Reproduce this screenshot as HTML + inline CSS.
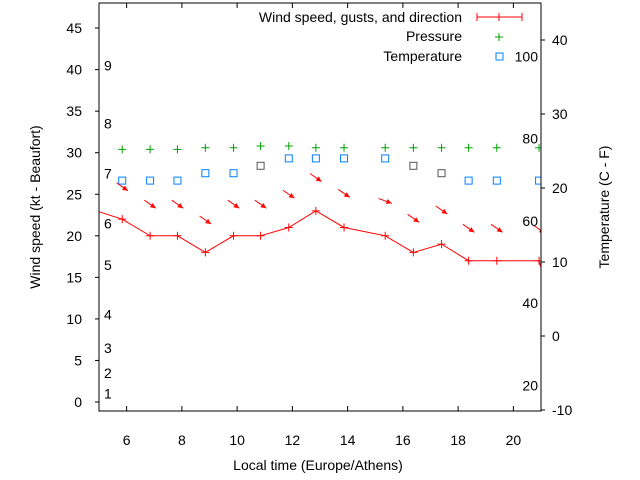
<!DOCTYPE html>
<html><head><meta charset="utf-8"><style>
body{margin:0;background:#fff}
svg{display:block;font-family:"Liberation Sans",sans-serif}
</style></head><body>
<svg id="c" width="640" height="480" xmlns="http://www.w3.org/2000/svg"></svg>
<script>
const hours=[5.84,6.85,7.84,8.85,9.87,10.85,11.87,12.85,13.87,15.36,16.38,17.4,18.38,19.4,20.93];
const windSpeed=[22,20,20,18,20,20,21,23,21,20,18,19,17,17,17];
const gusts=[25.9,23.8,23.8,21.9,23.8,23.8,25,27,25.1,24.2,22.1,23.1,20.9,20.9,20.8];
const windDir=[305,305,305,305,305,305,305,305,305,290,305,305,305,305,305];
const pressure=[30.4,30.4,30.4,30.6,30.6,30.8,30.8,30.6,30.6,30.6,30.6,30.6,30.6,30.6,30.6];
const tempC=[21,21,21,22,22,23,24,24,24,24,23,22,21,21,21];
const tempGray=[0,0,0,0,0,1,0,0,0,0,1,1,0,0,0];
const xTicks=[6,8,10,12,14,16,18,20];
const yTicks=[0,5,10,15,20,25,30,35,40,45];
const y2Ticks=[-10,0,10,20,30,40];
const bft=[[1,1],[2,3.5],[3,6.5],[4,10.5],[5,16.5],[6,21.5],[7,27.5],[8,33.5],[9,40.5]];
const fTicks=[20,40,60,80,100];
const L=99,R=541,T=3,B=411;
const X=h=>L+(h-5)*(R-L)/16;
const Y=v=>402-v*8.31;
const Y2=c=>262-(c-10)*7.4;
const Yf=f=>Y2((f-32)*5/9);
const s=document.getElementById('c');const NS='http://www.w3.org/2000/svg';
function el(t,a,p){const e=document.createElementNS(NS,t);for(const k in a)e.setAttribute(k,a[k]);(p||s).appendChild(e);return e;}
function txt(x,y,str,anchor,extra){const e=el('text',Object.assign({x:x,y:y,'font-size':14,'text-anchor':anchor||'middle',fill:'#000'},extra||{}));e.textContent=str;return e;}
const defs=el('defs',{});const cp=el('clipPath',{id:'clip'},defs);el('rect',{x:L,y:T,width:R-L,height:B-T},cp);
const g=el('g',{'clip-path':'url(#clip)'});
const box=el('rect',{x:L,y:T,width:R-L,height:B-T,fill:'none',stroke:'#000','stroke-width':1});

xTicks.forEach(h=>{el('line',{x1:X(h),x2:X(h),y1:B,y2:B-5,stroke:'#000'});el('line',{x1:X(h),x2:X(h),y1:T,y2:T+5,stroke:'#000'});
 const t=txt(X(h),445,String(h));});
yTicks.forEach(v=>{el('line',{x1:L-4,x2:L,y1:Y(v),y2:Y(v),stroke:'#000'});
 const t=txt(82,Y(v)+5,String(v),'end');});
y2Ticks.forEach(v=>{el('line',{x1:R,x2:R+4,y1:Y2(v),y2:Y2(v),stroke:'#000'});
 const t=txt(552,Y2(v)+5,String(v),'start');});
bft.forEach(b=>{const t=txt(104,Y(b[1])+5,String(b[0]),'start');});
fTicks.forEach(f=>{const t=txt(538,Yf(f)+5,String(f),'end');});
hours.forEach((h,i)=>{const x=X(h),y=Y(pressure[i]);const p=el('path',{d:`M${x-4},${y}H${x+4}M${x},${y-4}V${y+4}`,stroke:'#00a000','stroke-width':1},g);
 });
hours.forEach((h,i)=>{const r=el('rect',{x:X(h)-3.5,y:Y2(tempC[i])-3.5,width:7,height:7,fill:'none',stroke:tempGray[i]?'#555':'#0080ff','stroke-width':1},g);
 });
const pts=[[4.9,23]].concat(hours.map((h,i)=>[h,windSpeed[i]])).concat([[21.1,15]]);
const ln=el('polyline',{points:pts.map(p=>X(p[0])+','+Y(p[1])).join(' '),fill:'none',stroke:'#f00','stroke-width':1},g);

hours.forEach((h,i)=>{const x=X(h),y=Y(windSpeed[i]);const p=el('path',{d:`M${x-4},${y}H${x+4}M${x},${y-4}V${y+4}`,stroke:'#f00'},g);
 });
hours.forEach((h,i)=>{const a=(windDir[i]-270)*Math.PI/180;const dx=Math.cos(a)*7,dy=Math.sin(a)*7;const cx=X(h),cy=Y(gusts[i]);
 const x1=cx-dx,y1=cy-dy,x2=cx+dx,y2=cy+dy;const ang=Math.atan2(dy,dx);
 const ag=el('g',{},g);
 el('line',{x1:x1,y1:y1,x2:x2,y2:y2,stroke:'#f00'},ag);
 const hx1=x2-6*Math.cos(ang-0.45),hy1=y2-6*Math.sin(ang-0.45),hx2=x2-6*Math.cos(ang+0.45),hy2=y2-6*Math.sin(ang+0.45);
 el('polygon',{points:`${x2},${y2} ${hx1},${hy1} ${hx2},${hy2}`,fill:'#f00'},ag);});
let t=txt(462,22,'Wind speed, gusts, and direction','end');
el('path',{d:'M477,17H522M477,13V21M522,13V21M499,13V21',stroke:'#f00'});
t=txt(462,41,'Pressure','end');
el('path',{d:'M495,37H503M499,33V41',stroke:'#00a000'});
t=txt(462,61,'Temperature','end');
el('rect',{x:496,y:53,width:7,height:7,fill:'none',stroke:'#0080ff'});
t=txt(318,470,'Local time (Europe/Athens)');
t=txt(0,0,'Wind speed (kt - Beaufort)','middle',{transform:'translate(40,207) rotate(-90)'});
t=txt(0,0,'Temperature (C - F)','middle',{transform:'translate(609,207) rotate(-90)'});
</script>
</body></html>
